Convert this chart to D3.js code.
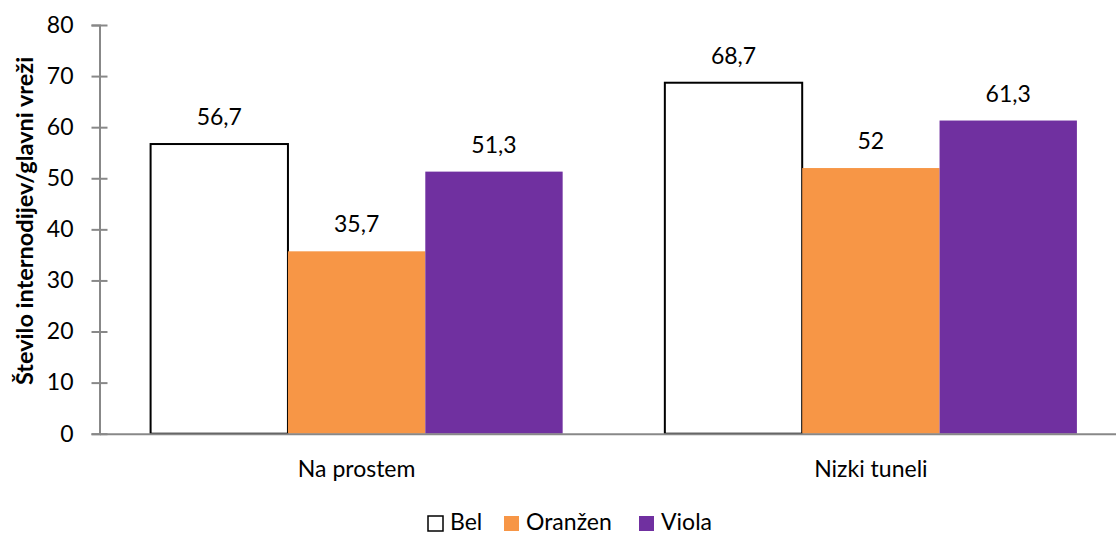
<!DOCTYPE html>
<html>
<head>
<meta charset="utf-8">
<script src="https://cdn.jsdelivr.net/npm/d3@7"></script>
<style>
  html, body { margin: 0; padding: 0; background: #fff; }
  svg { display: block; font-family: Lato, "Open Sans", sans-serif; }
</style>
</head>
<body>
<svg id="chart" width="1116" height="535"></svg>
<script>
// Number of internodes per main vine, by cover colour and growing system
const categories = ["Na prostem", "Nizki tuneli"];
const seriesNames = ["Bel", "Oranžen", "Viola"];
const belValues = [56.7, 68.7];
const oranzenValues = [35.7, 52];
const violaValues = [51.3, 61.3];
const yTicks = [0, 10, 20, 30, 40, 50, 60, 70, 80];
const yTitle = "Število internodijev/glavni vreži";

const seriesValues = [belValues, oranzenValues, violaValues];
const fills = ["#ffffff", "#F79646", "#7030A0"];
const strokes = ["#000000", "none", "none"];

const svg = d3.select("#chart");
const plot = { left: 99.5, right: 1128, top: 25, bottom: 433.7 };
const fontSize = 23;

const x = d3.scaleBand().domain(categories).range([plot.left, plot.right]).padding(0);
const xs = d3.scaleBand().domain(seriesNames).range([0, x.bandwidth()])
  .paddingInner(0).paddingOuter(0.372);
const y = d3.scaleLinear().domain([0, 80]).range([plot.bottom, plot.top]);

const fmt = v => String(v).replace(".", ",");

// bars with value labels
const groups = svg.append("g").selectAll("g")
  .data(categories)
  .join("g")
  .attr("transform", c => `translate(${x(c)},0)`);

groups.each(function (c, ci) {
  const g = d3.select(this);
  seriesNames.forEach((s, si) => {
    const v = seriesValues[si][ci];
    g.append("rect")
      .attr("x", xs(s))
      .attr("y", y(v))
      .attr("width", xs.bandwidth())
      .attr("height", y(0) - y(v))
      .attr("fill", fills[si])
      .attr("stroke", strokes[si])
      .attr("stroke-width", 2);
    g.append("text")
      .attr("x", xs(s) + xs.bandwidth() / 2)
      .attr("y", y(v) - 19)
      .attr("text-anchor", "middle")
      .attr("font-size", fontSize)
      .attr("fill", "#000")
      .text(fmt(v));
  });
});

// y axis with ticks crossing the axis line
const yAxis = svg.append("g")
  .attr("transform", `translate(${plot.left},0)`)
  .call(d3.axisLeft(y).tickValues(yTicks).tickSize(8).tickPadding(18).tickFormat(d => d));
yAxis.select(".domain").attr("stroke", "#888").attr("stroke-width", 2);
yAxis.selectAll(".tick line").attr("x1", 8).attr("stroke", "#888").attr("stroke-width", 2);
yAxis.selectAll(".tick text")
  .attr("font-size", fontSize)
  .attr("font-family", "Lato, sans-serif")
  .attr("fill", "#000");

// x axis baseline and category labels
const xAxis = svg.append("g")
  .attr("transform", `translate(0,${plot.bottom})`)
  .call(d3.axisBottom(x).tickSize(0).tickPadding(27));
xAxis.select(".domain").attr("stroke", "#888").attr("stroke-width", 2);
xAxis.selectAll(".tick text")
  .attr("font-size", fontSize)
  .attr("font-family", "Lato, sans-serif")
  .attr("fill", "#000");

// y axis title
svg.append("text")
  .attr("transform", `translate(33,221) rotate(-90)`)
  .attr("text-anchor", "middle")
  .attr("font-size", 23.5)
  .attr("font-weight", "bold")
  .attr("fill", "#000")
  .text(yTitle);

// legend
const legendX = [427, 503, 638];
const legend = svg.append("g");
seriesNames.forEach((s, i) => {
  legend.append("rect")
    .attr("x", legendX[i] + 1)
    .attr("y", 516)
    .attr("width", 15)
    .attr("height", 15)
    .attr("fill", fills[i])
    .attr("stroke", strokes[i] === "none" ? "none" : "#000")
    .attr("stroke-width", 1.5);
  legend.append("text")
    .attr("x", legendX[i] + 23)
    .attr("y", 530)
    .attr("font-size", fontSize)
    .attr("fill", "#000")
    .text(s);
});
</script>
</body>
</html>
